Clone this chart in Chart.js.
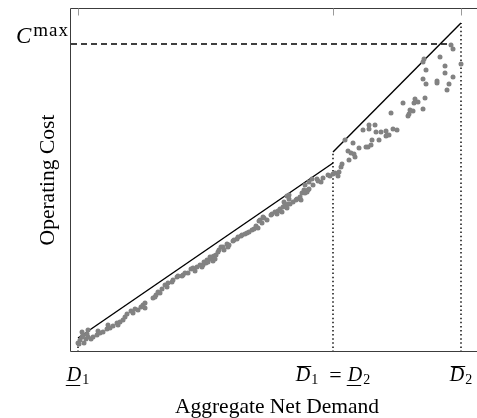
<!DOCTYPE html>
<html>
<head>
<meta charset="utf-8">
<script src="https://cdn.jsdelivr.net/npm/chart.js@4.4.1/dist/chart.umd.min.js"></script>
<style>
  html, body { margin: 0; padding: 0; background: #fff; overflow: hidden; }
  #wrap { position: relative; width: 484px; height: 418px; }
</style>
</head>
<body>
<div id="wrap"><canvas id="c"></canvas></div>
<script>
// ---- data ----
// demand ticks: D1 lower, D1 upper = D2 lower, D2 upper
const demandTicks = [0, 255, 383];
// piecewise linear cost bound: segment 1 over [D1_lo, D1_hi], segment 2 over [D2_lo, D2_hi]
const segment1Demand = [0, 255];
const segment1Cost = [14, 189];
const segment2Demand = [255, 383];
const segment2Cost = [200, 329];
// maximum cost level and where the dashed line stops
const costMax = 308;
const costMaxEndDemand = 369;
// lowest observed cost at D1 lower (short dotted stub)
const stubCost = 9;
// scattered observations
const obsDemand = [
  0,1,2,4,4,5,6,8,9,10,10,13,15,19,20,22,25,29,30,32,35,39,40,42,45,47,49,53,55,57,60,63,65,67,67,
  75,77,78,80,82,84,87,89,90,94,95,99,100,104,105,107,110,113,115,117,119,122,124,125,126,128,129,130,132,133,134,135,136,137,138,140,141,
  143,145,146,149,150,151,155,156,159,160,163,164,167,169,171,174,176,178,180,181,182,184,185,186,189,193,194,197,199,200,202,204,205,206,207,209,209,210,211,211,212,215,218,219,222,223,224,226,227,227,229,230,231,231,234,235,239,240,243,245,250,252,255,257,
  260,261,263,264,267,270,271,273,275,276,277,281,285,288,290,291,291,293,294,297,298,301,303,308,308,309,311,313,315,319,325,330,331,332,335,336,337,340,345,345,345,346,347,348,348,359,359,362,367,367,369,371,373,375,375,383
];
const obsCost = [
  9,8,12,15,20,17,9,13,18,15,22,13,15,17,21,19,20,23,27,24,26,29,27,30,32,35,38,41,39,43,42,45,47,49,44,
  54,55,57,60,59,63,67,65,69,70,72,75,76,76,77,79,79,83,84,81,85,87,85,87,90,89,92,90,95,93,95,91,96,93,97,100,102,
  105,105,102,108,105,107,111,112,113,115,116,117,118,119,120,122,123,126,124,131,132,129,135,134,132,137,138,140,138,141,143,140,145,150,147,156,144,148,153,157,148,150,152,153,155,152,159,162,159,167,160,162,170,163,173,167,173,171,170,174,177,176,178,179,
  176,180,185,188,212,201,192,199,209,198,195,204,222,205,205,227,223,207,212,227,220,212,220,216,221,217,217,239,223,222,249,236,238,242,241,249,253,250,243,273,290,293,254,282,268,271,269,295,279,286,262,268,307,303,275,288
];
// axis ranges (data units)
const demandRange = [-7, 405];
const costRange = [0, 344];
// texts
const xTitle = 'Aggregate Net Demand';
const yTitle = 'Operating Cost';
// tick labels: main symbol, bar style, subscript; '=' joins
const tickLabels = [
  [{t: 'D', bar: 'under', sub: '1'}],
  [{t: 'D', bar: 'over', sub: '1'}, '=', {t: 'D', bar: 'under', sub: '2'}],
  [{t: 'D', bar: 'over', sub: '2'}]
];
const costMaxLabel = {t: 'C', sup: 'max'};

// ---- build ----
const pts = (xs, ys) => xs.map((v, i) => ({x: v, y: ys[i]}));
const SERIF = '"Liberation Serif", "Times New Roman", serif';

const lineDs = (data, dash, width) => ({
  type: 'scatter',
  data,
  showLine: true,
  borderColor: '#000',
  borderWidth: width,
  borderDash: dash,
  pointRadius: 0,
  pointHoverRadius: 0,
  order: 1
});

const datasets = [
  {
    type: 'scatter',
    data: pts(obsDemand, obsCost),
    pointRadius: 2.5,
    pointBackgroundColor: '#828282',
    pointBorderWidth: 0,
    showLine: false,
    order: 0
  },
  lineDs(pts(segment1Demand, segment1Cost), [], 1.4),
  lineDs(pts(segment2Demand, segment2Cost), [], 1.4),
  lineDs([{x: demandRange[0], y: costMax}, {x: costMaxEndDemand, y: costMax}], [6, 4], 1.3),
  lineDs([{x: demandTicks[0], y: costRange[0]}, {x: demandTicks[0], y: stubCost}], [1.5, 2.6], 1.4),
  lineDs([{x: demandTicks[1], y: costRange[0]}, {x: demandTicks[1], y: segment2Cost[0]}], [1.5, 2.6], 1.4),
  lineDs([{x: demandTicks[2], y: costRange[0]}, {x: demandTicks[2], y: segment2Cost[1]}], [1.5, 2.6], 1.4)
];

const texPlugin = {
  id: 'texPlugin',
  afterDraw(chart) {
    const {ctx, chartArea: a, scales: {x, y}} = chart;
    ctx.save();
    // frame (left, top, bottom)
    const L = Math.round(a.left) - 0.5, T = Math.round(a.top) + 0.5, B = Math.round(a.bottom) - 0.5;
    ctx.strokeStyle = '#3c3c3c';
    ctx.lineWidth = 1;
    ctx.setLineDash([]);
    ctx.beginPath();
    ctx.moveTo(a.right + 5, T); ctx.lineTo(L, T); ctx.lineTo(L, B); ctx.lineTo(a.right + 5, B);
    ctx.stroke();
    // small ticks at top
    ctx.strokeStyle = '#9a9a9a';
    demandTicks.forEach(v => {
      const px = Math.round(x.getPixelForValue(v)) + 0.5;
      ctx.beginPath();
      ctx.moveTo(px, T); ctx.lineTo(px, T + 7);
      ctx.stroke();
    });

    // x tick labels
    const mainFont = 'italic 20px ' + SERIF;
    const subFont = '14px ' + SERIF;
    const eqFont = '22px ' + SERIF;
    const baseY = Math.round(a.bottom) + 29;
    ctx.fillStyle = '#000';
    ctx.strokeStyle = '#000';
    ctx.textBaseline = 'alphabetic';
    ctx.textAlign = 'left';
    tickLabels.forEach((parts, i) => {
      const pieces = [];
      parts.forEach(p => {
        if (typeof p === 'string') {
          ctx.font = eqFont;
          pieces.push({kind: 'eq', text: p, w: ctx.measureText(p).width, gl: 11, gr: 6});
        } else {
          ctx.font = mainFont;
          const wm = ctx.measureText(p.t).width;
          ctx.font = subFont;
          const ws = ctx.measureText(p.sub).width;
          pieces.push({kind: 'sym', p, wm, ws, w: wm + 1 + ws, gl: 0, gr: 0});
        }
      });
      let total = 0;
      pieces.forEach(pc => { total += pc.gl + pc.w + pc.gr; });
      let cx = x.getPixelForValue(demandTicks[i]) - total / 2;
      pieces.forEach(pc => {
        cx += pc.gl;
        if (pc.kind === 'eq') {
          ctx.font = eqFont;
          ctx.fillText(pc.text, cx, baseY + 1);
        } else {
          ctx.font = mainFont;
          ctx.fillText(pc.p.t, cx, baseY);
          ctx.font = subFont;
          ctx.fillText(pc.p.sub, cx + pc.wm + 1, baseY + 3);
          ctx.lineWidth = 1;
          ctx.beginPath();
          if (pc.p.bar === 'over') {
            ctx.moveTo(cx + 1, baseY - 14.5); ctx.lineTo(cx + pc.wm + 1, baseY - 14.5);
          } else {
            ctx.moveTo(cx - 1, baseY + 4.5); ctx.lineTo(cx + pc.wm - 1, baseY + 4.5);
          }
          ctx.stroke();
        }
        cx += pc.w + pc.gr;
      });
    });

    // C^max label at the cost-max level
    const py = y.getPixelForValue(costMax);
    const right = a.left - 2;
    ctx.font = '19px ' + SERIF;
    if ('letterSpacing' in ctx) ctx.letterSpacing = '1px';
    const wSup = ctx.measureText(costMaxLabel.sup).width;
    ctx.textAlign = 'right';
    ctx.fillText(costMaxLabel.sup, right, py - 8);
    if ('letterSpacing' in ctx) ctx.letterSpacing = '0px';
    ctx.font = 'italic 23px ' + SERIF;
    ctx.fillText(costMaxLabel.t, right - wSup - 2, py - 1);
    ctx.restore();
  }
};

new Chart(document.getElementById('c'), {
  type: 'scatter',
  data: {datasets},
  options: {
    responsive: true,
    maintainAspectRatio: false,
    animation: false,
    events: [],
    layout: {autoPadding: false, padding: {top: 8, right: 1, left: 0, bottom: 0}},
    plugins: {legend: {display: false}, tooltip: {enabled: false}},
    scales: {
      x: {
        type: 'linear',
        min: demandRange[0],
        max: demandRange[1],
        grid: {display: false},
        border: {display: false},
        ticks: {display: false},
        title: {
          display: true,
          text: xTitle,
          color: '#000',
          font: {family: SERIF, size: 21.5},
          padding: {top: 0, bottom: -2}
        },
        afterFit: s => { s.height = 66; }
      },
      y: {
        type: 'linear',
        min: costRange[0],
        max: costRange[1],
        grid: {display: false},
        border: {display: false},
        ticks: {display: false},
        title: {
          display: true,
          text: yTitle,
          color: '#000',
          font: {family: SERIF, size: 21.5},
          padding: {top: 35, bottom: 0}
        },
        afterFit: s => { s.width = 71; }
      }
    }
  },
  plugins: [texPlugin]
});
</script>
</body>
</html>
